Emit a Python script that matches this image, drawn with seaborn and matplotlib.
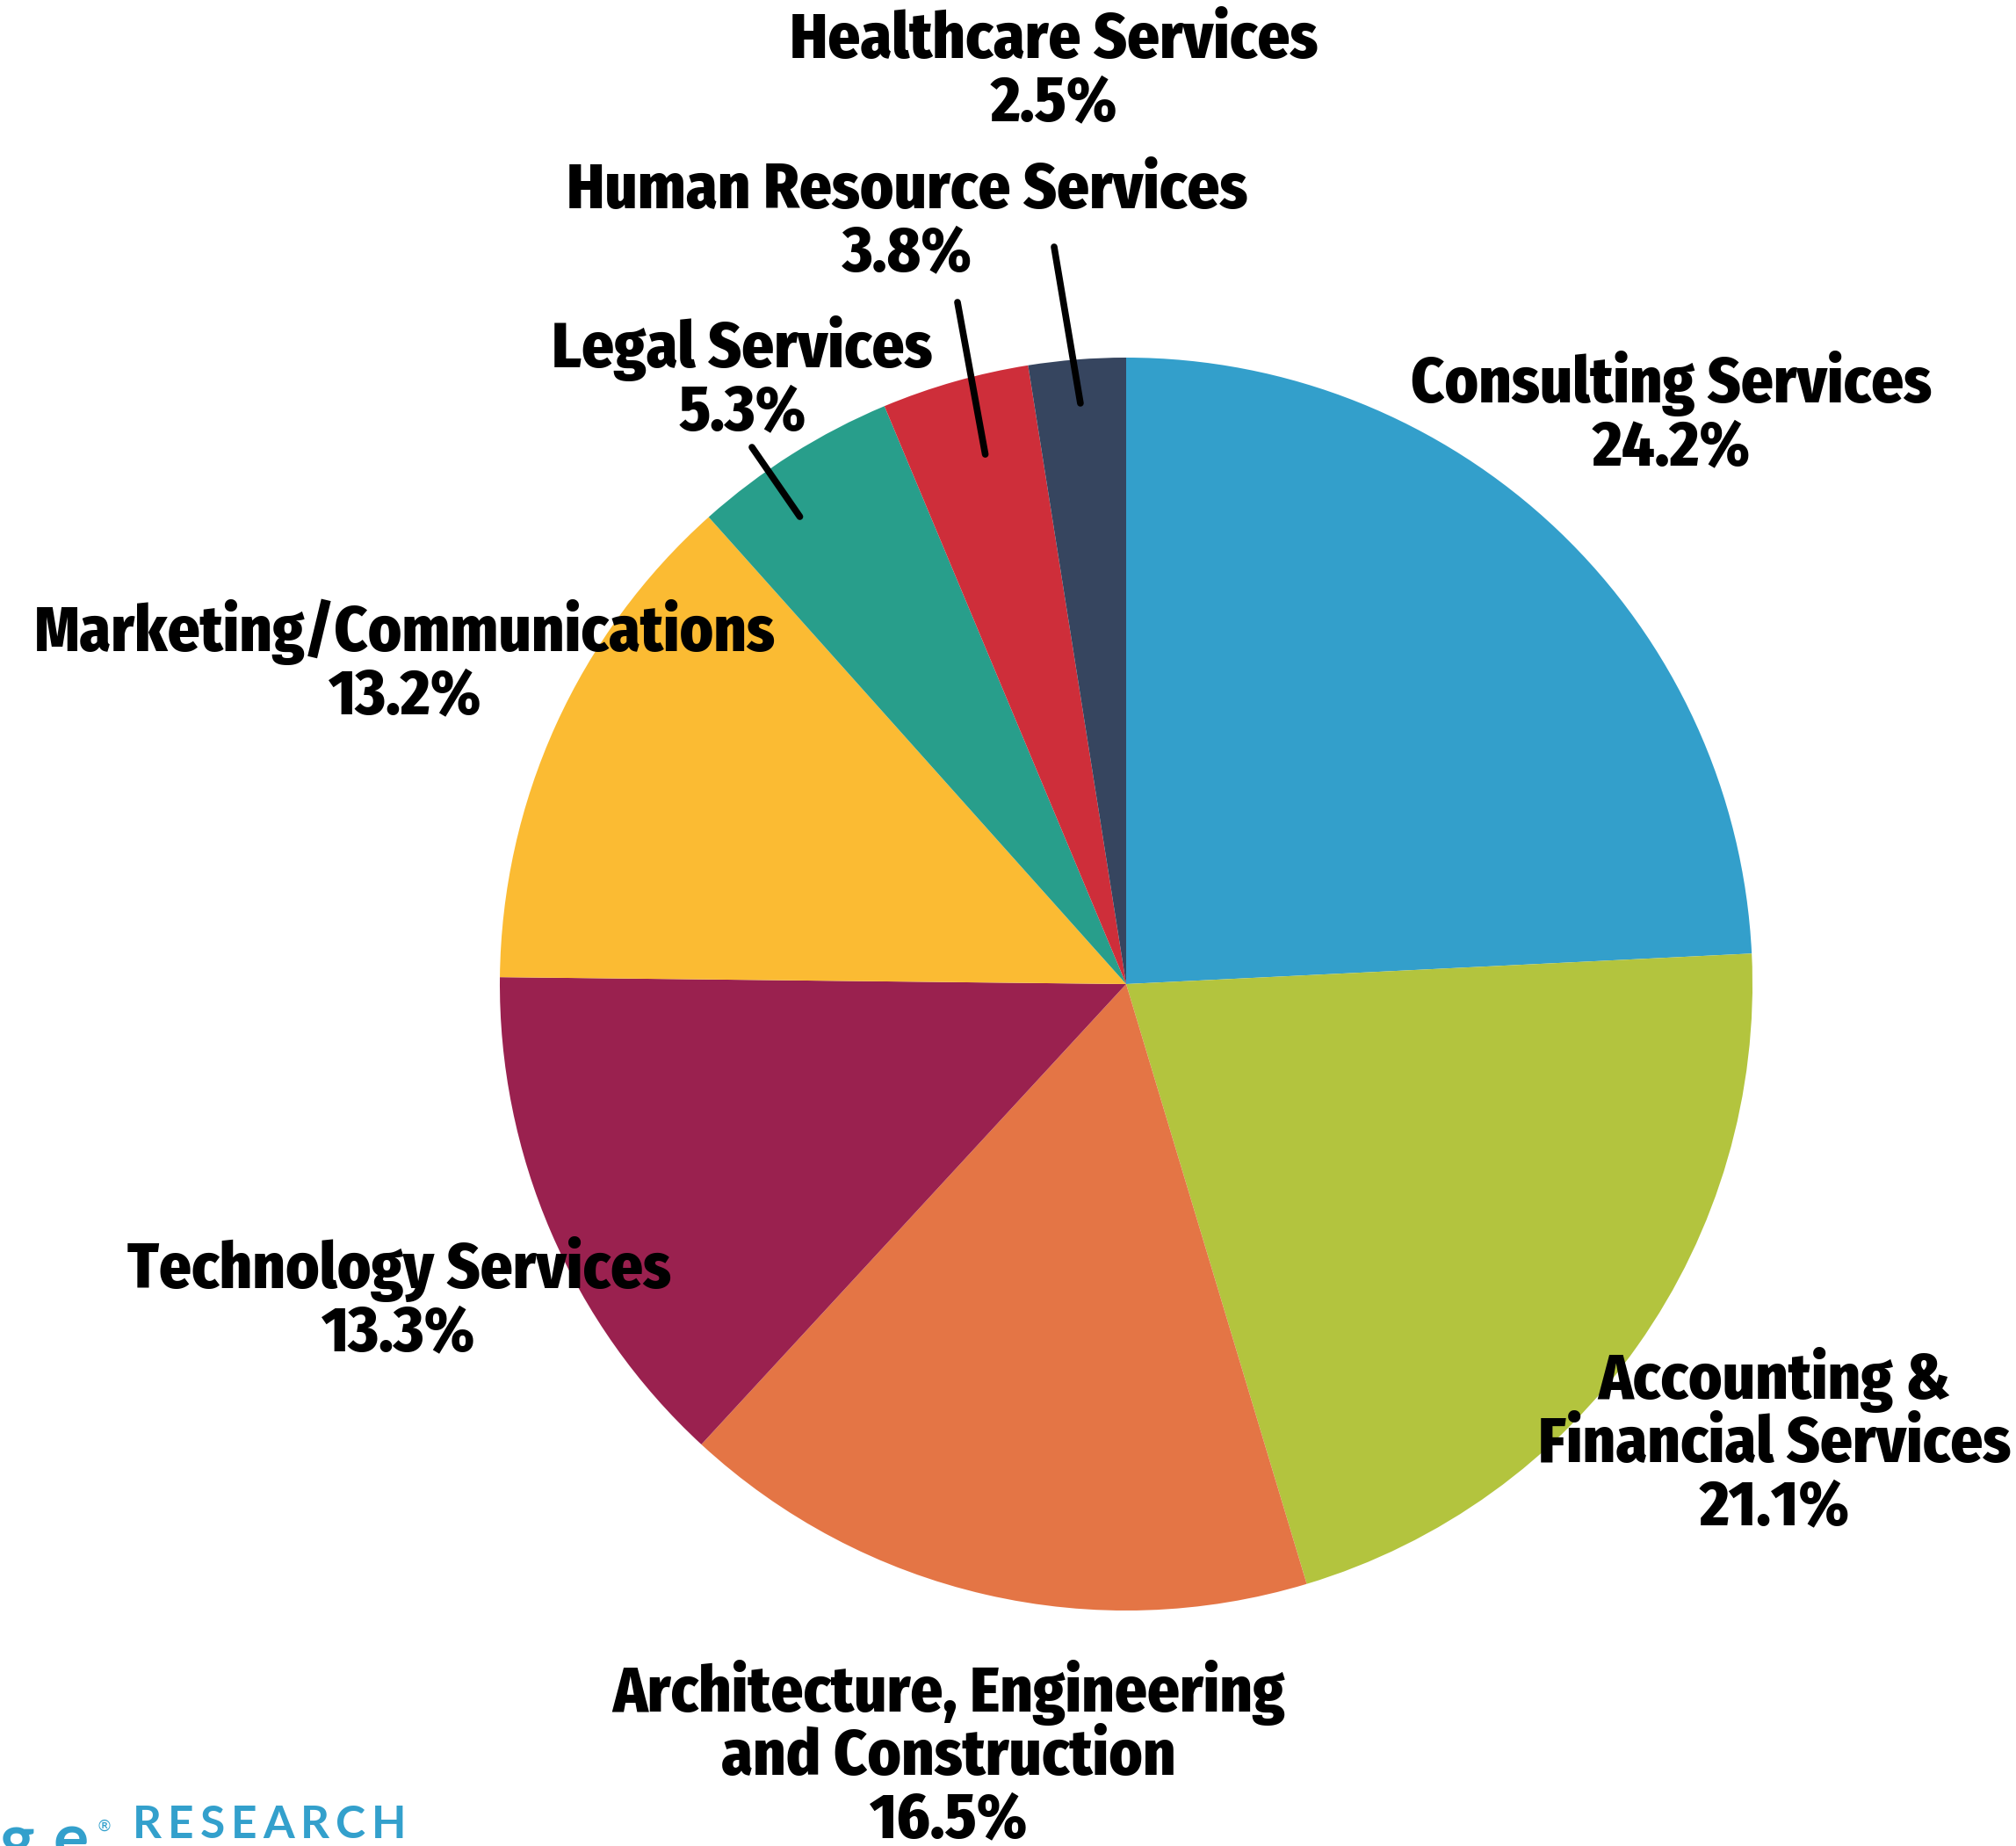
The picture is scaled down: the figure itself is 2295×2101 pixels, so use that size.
import numpy as np
import matplotlib
matplotlib.use("Agg")
import matplotlib.pyplot as plt
import seaborn as sns

# Share of firms by industry
categories = [
    "Consulting Services",
    "Accounting &\nFinancial Services",
    "Architecture, Engineering\nand Construction",
    "Technology Services",
    "Marketing/Communications",
    "Legal Services",
    "Human Resource Services",
    "Healthcare Services",
]
shares = [24.2, 21.1, 16.5, 13.3, 13.2, 5.3, 3.8, 2.5]
colors = ["#339FCB", "#B3C43E", "#E47545", "#9A214F",
          "#FBBB33", "#289E8B", "#CE2E3A", "#36455F"]

sns.set_theme(style="white")
plt.rcParams["font.family"] = ["Fira Sans Condensed", "PT Sans Narrow", "DejaVu Sans"]

W, H = 2295, 2101
fig = plt.figure(figsize=(W / 100, H / 100), dpi=100)
fig.patch.set_facecolor("white")

# Pie occupies a square axes centred at (1282, 1120) px, radius 713 px
cx, cy, R = 1282, 1120, 713
ax = fig.add_axes([(cx - R) / W, (H - cy - R) / H, 2 * R / W, 2 * R / H])
wedges, _ = ax.pie(shares, colors=sns.color_palette(colors), startangle=90,
                   counterclock=False, radius=1.0,
                   wedgeprops=dict(linewidth=0))
ax.set_xlim(-1, 1)
ax.set_ylim(-1, 1)
ax.set_aspect("equal")
ax.axis("off")


def fx(x):
    return x / W


def fy(y):
    return 1 - y / H


# Label block centres in pixels
label_pos = {
    "Consulting Services": (1903, 472),
    "Accounting &\nFinancial Services": (2020, 1642),
    "Architecture, Engineering\nand Construction": (1080, 1998),
    "Technology Services": (454, 1480),
    "Marketing/Communications": (461, 755),
    "Legal Services": (845, 432),
    "Human Resource Services": (1033, 253),
    "Healthcare Services": (1200, 82),
}

for cat, val in zip(categories, shares):
    x, y = label_pos[cat]
    fig.text(fx(x), fy(y), f"{cat}\n{val:.1f}%", ha="center", va="center",
             fontsize=52, fontweight="heavy", color="black", linespacing=1.0)

# Leader lines for the thin slices: start (px) and end (position in wedge)
leader_start = {
    "Legal Services": (856, 509),
    "Human Resource Services": (1090, 344),
    "Healthcare Services": (1200, 281),
}
leader_end = {"Legal Services": (0.64, 0.91),
              "Human Resource Services": (0.43, 0.875),
              "Healthcare Services": (0.5, 0.93)}
for w, cat in zip(wedges, categories):
    if cat in leader_start:
        frac, r = leader_end[cat]
        ang = np.deg2rad(w.theta1 + frac * (w.theta2 - w.theta1))
        ex, ey = r * np.cos(ang), r * np.sin(ang)
        disp = ax.transData.transform((ex, ey))
        fxy = fig.transFigure.inverted().transform(disp)
        sx, sy = leader_start[cat]
        fig.add_artist(plt.Line2D([fx(sx), fxy[0]], [fy(sy), fxy[1]],
                                  color="black", linewidth=5.5,
                                  transform=fig.transFigure))

# Brand mark at the bottom left
blue = "#33A0CC"
brand_font = ["Lato", "DejaVu Sans"]
fig.text(fx(39), fy(2118), "g", ha="right", va="baseline",
         fontsize=54, fontweight="bold", color=blue, family=brand_font)
fig.text(fx(101), fy(2118), "e", ha="right", va="baseline",
         fontsize=54, fontweight="bold", color=blue, family=brand_font)
fig.text(fx(119), fy(2079), "®", ha="center", va="center", fontsize=13,
         color=blue, family=["DejaVu Sans"])

# Letter-spaced wordmark
renderer = fig.canvas.get_renderer()
x0 = 151
gap = 7
for ch in "RESEARCH":
    t = fig.text(fx(x0), fy(2092), ch, ha="left", va="baseline",
                 fontsize=37, fontweight="bold", color=blue, family=brand_font)
    bb = t.get_window_extent(renderer=renderer)
    x0 += bb.width + gap

fig.savefig("out.png", dpi=100, facecolor="white")
